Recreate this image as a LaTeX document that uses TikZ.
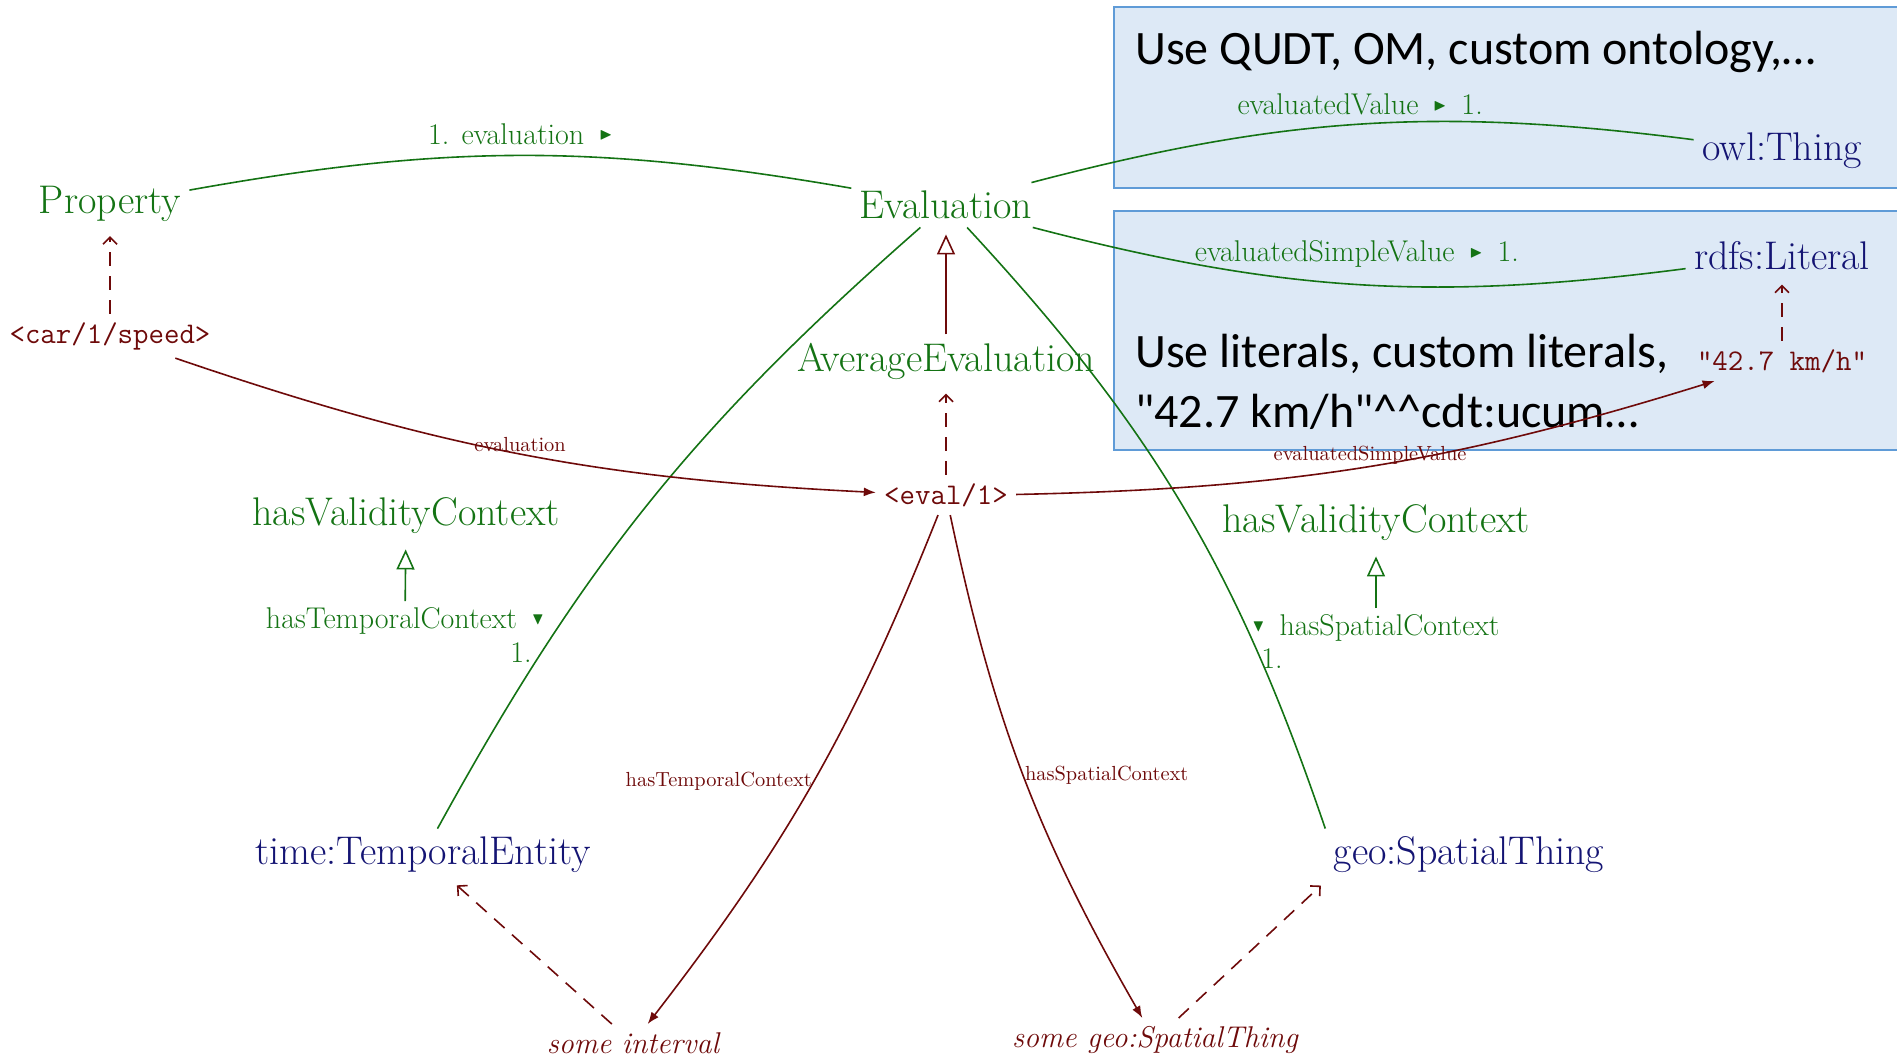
\documentclass[tikz,border=0pt]{standalone}
\usepackage{fontspec}
\usepackage{amssymb}
\usetikzlibrary{arrows.meta,calc}
\newfontfamily\boxfont{Carlito}
\definecolor{clsgreen}{RGB}{20,115,20}
\definecolor{inst}{RGB}{110,10,10}
\definecolor{navyc}{RGB}{20,20,115}
\definecolor{boxfill}{RGB}{221,233,246}
\definecolor{boxline}{RGB}{95,155,215}
\newcommand{\trright}{\raisebox{0.35ex}{\scalebox{0.8}{$\scriptstyle\blacktriangleright$}}}
\newcommand{\trdown}{\raisebox{0.3ex}{\scalebox{0.8}{$\scriptstyle\blacktriangledown$}}}
\begin{document}
\begin{tikzpicture}[x=0.5pt,y=-0.5pt,
  cls/.style={text=clsgreen, font=\fontsize{20}{22}\selectfont, inner sep=4pt},
  ext/.style={text=navyc, font=\fontsize{20}{22}\selectfont, inner sep=4pt},
  indiv/.style={text=inst, font=\fontsize{15}{17}\selectfont\ttfamily, inner sep=4pt},
  blank/.style={text=inst, font=\fontsize{15}{17}\selectfont\itshape, inner sep=4pt},
  plabel/.style={text=clsgreen, font=\fontsize{15}{17}\selectfont, inner sep=2pt},
  ilabel/.style={text=inst, font=\fontsize{10.2}{12}\selectfont, inner sep=0.5pt},
  assoc/.style={draw=clsgreen, line width=0.8pt},
  relation/.style={draw=inst, line width=0.8pt, -{Latex[length=6pt,width=4.5pt]}},
  typeof/.style={draw=inst, line width=0.8pt, dash pattern=on 7pt off 5pt, shorten >=3pt, -{Straight Barb[length=3.5pt,width=7pt]}},
  subcls/.style={line width=0.8pt, shorten >=3.5pt, -{Triangle[open,length=10pt,width=9pt]}},
  note/.style={draw=boxline, fill=boxfill, line width=1.2pt},
  notetext/.style={font=\fontsize{24}{30}\selectfont\boxfont, text=black, inner sep=0pt, anchor=base west},
]
\useasboundingbox (0,0) rectangle (1897,1059);
% note boxes
\path[note] (1114,7) rectangle (1905,188);
\path[note] (1114,211) rectangle (1905,450);
\node[notetext] (noteA) at (1135,65) {Use QUDT, OM, custom ontology,…};
\node[notetext] (noteB) at (1135,368) {Use literals, custom literals,};
\node[notetext] (noteC) at (1135,428) {"42.7 km/h"\textasciicircum\textasciicircum cdt:ucum…};

% classes
\node[cls] (prop) at (110,204) {Property};
\node[cls] (evalc) at (946,205) {Evaluation};
\node[cls] (avg) at (946,361) {AverageEvaluation};
\node[cls] (hvcl) at (406,516) {hasValidityContext};
\node[cls] (hvcr) at (1376,523) {hasValidityContext};
\node[ext] (time) at (423,855) {time:TemporalEntity};
\node[ext] (geo) at (1469,855) {geo:SpatialThing};
\node[ext] (owl) at (1782,151) {owl:Thing};
\node[ext] (rdfs) at (1782,256) {rdfs:Literal};

% individuals
\node[indiv] (car) at (110,336) {<car/1/speed>};
\node[indiv] (evi) at (946,495) {<eval/1>};
\node[indiv] (lit) at (1782,361) {"42.7 km/h"};
\node[blank] (intv) at (633,1043) {some interval};
\node[blank] (sgeo) at (1155,1040) {some geo:SpatialThing};

% property labels on associations
\node[plabel] (htc) at (405,621) {hasTemporalContext\enspace\trdown};
\node[plabel] (htcone) at (521,653) {1.};
\node[plabel] (hsc) at (1376,628) {\trdown\enspace hasSpatialContext};
\node[plabel] (hscone) at (1272,659) {1.};

% associations (green)
\draw[assoc] (prop) to[bend left=10] node[plabel, above=3pt] {1. evaluation\enspace\trright} (evalc);
\draw[assoc] (evalc) to[bend left=11] node[plabel, above=2pt] {evaluatedValue\enspace\trright\enspace1.} (owl);
\draw[assoc] (evalc) to[bend right=11] node[plabel, above=6pt] {evaluatedSimpleValue\enspace\trright\enspace1.} (rdfs);
\draw[assoc] (evalc) to[bend right=10] (time);
\draw[assoc] (evalc) to[bend left=12] (geo.north west);

% subclass / subproperty
\draw[subcls, draw=inst] (avg) -- (evalc);
\draw[subcls, draw=clsgreen, shorten <=1pt] (htc) -- (hvcl);
\draw[subcls, draw=clsgreen, shorten <=1pt] (hsc) -- (hvcr);

% instance-of
\draw[typeof] (car) -- (prop);
\draw[typeof] (evi) -- (avg);
\draw[typeof] (lit) -- (rdfs);
\draw[typeof] (intv) -- (time);
\draw[typeof] (sgeo) -- (geo.south west);

% instance relations
\draw[relation] ($(car.south)!0.6!(car.south east)$) to[bend right=8]
  node[ilabel, pos=0.5, anchor=south] {evaluation} (evi);
\draw[relation] (evi) to[bend right=8]
  node[ilabel, pos=0.5, anchor=south] {evaluatedSimpleValue} ($(lit.south west)+(26,0)$);
\draw[relation] (evi) to[bend left=8]
  node[ilabel, pos=0.5, anchor=east] {hasTemporalContext} (intv);
\draw[relation] (evi) to[bend right=9]
  node[ilabel, pos=0.5, anchor=west] {hasSpatialContext} (sgeo);
\end{tikzpicture}
\end{document}
